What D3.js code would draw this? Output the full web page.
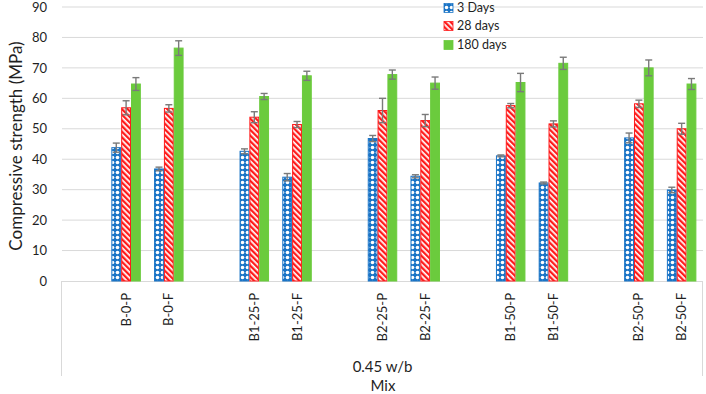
<!DOCTYPE html>
<html><head><meta charset="utf-8">
<script src="https://cdn.jsdelivr.net/npm/d3@7"></script>
<style>body{margin:0;background:#fff}svg{display:block;font-family:Lato,sans-serif}</style>
</head><body><svg id="c" width="706" height="394"></svg>
<script>
// category slots (empty strings are Excel's blank spacer categories)
const categories = ["", "B-0-P", "B-0-F", "", "B1-25-P", "B1-25-F", "", "B2-25-P", "B2-25-F", "", "B1-50-P", "B1-50-F", "", "B2-50-P", "B2-50-F"];
const seriesNames = ["3 Days", "28 days", "180 days"];
const days3    = [null, 43.8, 36.8, null, 42.6, 34.1, null, 46.8, 34.4, null, 41.1, 32.2, null, 47.0, 29.9];
const days28   = [null, 56.9, 56.7, null, 53.8, 51.4, null, 56.0, 52.7, null, 57.6, 51.6, null, 58.2, 50.0];
const days180  = [null, 64.7, 76.5, null, 60.6, 67.4, null, 67.8, 65.0, null, 65.2, 71.5, null, 70.0, 64.7];
const err3     = [null, 1.5, 0.6, null, 0.8, 1.2, null, 1.0, 0.5, null, 0.3, 0.3, null, 1.6, 0.9];
const err28    = [null, 2.3, 1.2, null, 1.8, 1.0, null, 4.0, 2.0, null, 0.7, 1.0, null, 1.2, 1.8];
const err180   = [null, 2.1, 2.4, null, 1.0, 1.5, null, 1.5, 2.0, null, 3.0, 2.0, null, 2.6, 1.8];
const yTicks = [0, 10, 20, 30, 40, 50, 60, 70, 80, 90];
const outerLabel = "0.45 w/b";
const xTitle = "Mix";
const yTitle = "Compressive strength (MPa)";

const svg = d3.select("#c");
const defs = svg.append("defs");
const pb = defs.append("pattern").attr("id", "pBlue").attr("patternUnits", "userSpaceOnUse").attr("width", 5).attr("height", 5);
pb.append("rect").attr("width", 5).attr("height", 5).attr("fill", "#1a74c6");
pb.append("circle").attr("cx", 2.5).attr("cy", 2.5).attr("r", 1.8).attr("fill", "#fff");
const pr = defs.append("pattern").attr("id", "pRed").attr("patternUnits", "userSpaceOnUse").attr("width", 4).attr("height", 4).attr("patternTransform", "rotate(-45)");
pr.append("rect").attr("width", 4).attr("height", 4).attr("fill", "#fff");
pr.append("rect").attr("width", 2.3).attr("height", 4).attr("fill", "#ff1a1a");

const fills = ["url(#pBlue)", "url(#pRed)", "#6bcb3d"];
const strokes = ["#1a74c6", "#ff1a1a", "#6bcb3d"];
const values = [days3, days28, days180];
const errs = [err3, err28, err180];

const x = d3.scaleBand().domain(d3.range(categories.length)).range([62, 703]).paddingInner(0).paddingOuter(0);
const y = d3.scaleLinear().domain([0, 90]).range([281, 7]);
const inner = d3.scaleBand().domain(d3.range(3)).range([0, x.bandwidth() * 0.69]);
const off = (x.bandwidth() - inner.range()[1]) / 2;

// gridlines
svg.append("g").selectAll("line").data(yTicks.slice(1)).join("line")
  .attr("x1", 62).attr("x2", 703).attr("y1", d => y(d)).attr("y2", d => y(d))
  .attr("stroke", "#d9d9d9").attr("stroke-width", 1);

// y tick labels
svg.append("g").selectAll("text").data(yTicks).join("text")
  .attr("x", 47).attr("y", d => y(d)).attr("dy", "0.36em").attr("text-anchor", "end")
  .attr("font-size", 13).attr("fill", "#1f1f1f").text(d => d);

// y title
svg.append("text").attr("transform", `translate(16,${(y(0) + y(90)) / 2 + 2}) rotate(-90)`)
  .attr("text-anchor", "middle").attr("dy", "0.35em").attr("font-size", 17).attr("fill", "#1f1f1f").text(yTitle);

// category axis box
const ax = svg.append("g").attr("stroke", "#d9d9d9").attr("stroke-width", 1);
ax.append("line").attr("x1", 62).attr("x2", 703).attr("y1", y(0) + 0.5).attr("y2", y(0) + 0.5);
ax.append("line").attr("x1", 61.5).attr("x2", 61.5).attr("y1", y(0)).attr("y2", 376);
ax.append("line").attr("x1", 702.5).attr("x2", 702.5).attr("y1", y(0)).attr("y2", 376);

// bars
values.forEach((vals, s) => {
  const g = svg.append("g");
  const data = vals.map((v, i) => ({ v, i, e: errs[s][i] })).filter(d => d.v != null);
  g.selectAll("rect").data(data).join("rect")
    .attr("x", d => x(d.i) + off + inner(s) + 0.5)
    .attr("width", inner.bandwidth() - 1)
    .attr("y", d => y(d.v))
    .attr("height", d => y(0) - y(d.v))
    .attr("fill", fills[s]).attr("stroke", strokes[s]).attr("stroke-width", 1);
  const eg = svg.append("g").attr("stroke", "#7a7a7a").attr("stroke-width", 1.4);
  data.forEach(d => {
    const cx = x(d.i) + off + inner(s) + inner.bandwidth() / 2;
    eg.append("line").attr("x1", cx).attr("x2", cx).attr("y1", y(d.v + d.e)).attr("y2", y(d.v - d.e));
    eg.append("line").attr("x1", cx - 3.5).attr("x2", cx + 3.5).attr("y1", y(d.v + d.e)).attr("y2", y(d.v + d.e));
    eg.append("line").attr("x1", cx - 3.5).attr("x2", cx + 3.5).attr("y1", y(d.v - d.e)).attr("y2", y(d.v - d.e));
  });
});

// inner category labels
svg.append("g").selectAll("text").data(categories.map((c, i) => ({ c, i })).filter(d => d.c))
  .join("text")
  .attr("transform", d => `translate(${x(d.i) + x.bandwidth() / 2},293) rotate(-90)`)
  .attr("text-anchor", "end").attr("dy", "0.35em").attr("font-size", 13).attr("fill", "#1f1f1f")
  .text(d => d.c);

// outer label and axis title
svg.append("text").attr("x", 382.5).attr("y", 372).attr("text-anchor", "middle").attr("font-size", 15).attr("fill", "#1f1f1f").text(outerLabel);
svg.append("text").attr("x", 383).attr("y", 391).attr("text-anchor", "middle").attr("font-size", 15).attr("fill", "#1f1f1f").text(xTitle);

// legend
const lg = svg.append("g").attr("transform", "translate(444,0)");
const rows = [8, 26, 45];
seriesNames.forEach((n, i) => {
  lg.append("rect").attr("x", 0).attr("y", rows[i] - 4.5).attr("width", 9).attr("height", 9)
    .attr("fill", fills[i]).attr("stroke", strokes[i]).attr("stroke-width", 0.8);
  lg.append("text").attr("x", 13).attr("y", rows[i]).attr("dy", "0.35em").attr("font-size", 12.5).attr("fill", "#1f1f1f").text(n);
});
</script></body></html>
